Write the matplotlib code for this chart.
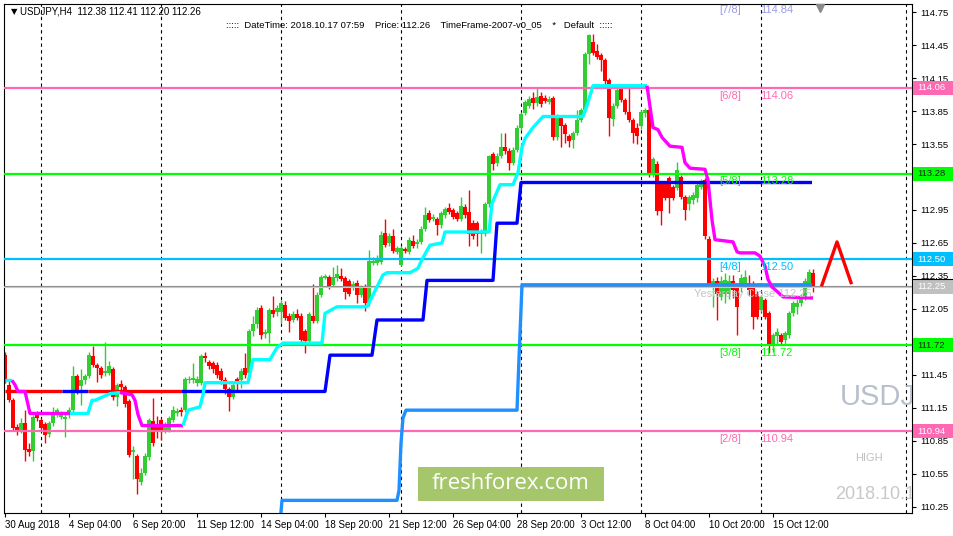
import matplotlib
matplotlib.use("Agg")
import matplotlib.pyplot as plt
from matplotlib.patches import Rectangle

# ---- candles (H4 bars, index 0 = 30 Aug 2018 12:00) ----
opens = [
    111.63, 111.36, 111.22, 110.98, 110.95, 111.01, 110.78, 110.76, 111.09, 111.04,
    111.00, 110.91, 111.01, 111.10, 111.07, 111.05, 111.09, 111.13, 111.44, 111.35,
    111.40, 111.44, 111.62, 111.54, 111.51, 111.47, 111.47, 111.50, 111.25, 111.37,
    111.34, 111.21, 110.75, 110.71, 110.48, 110.56, 110.70, 111.03, 111.00, 111.04,
    110.94, 110.95, 111.04, 111.10, 111.13, 111.13, 111.40, 111.40, 111.38, 111.38,
    111.62, 111.57, 111.56, 111.54, 111.49, 111.40, 111.32, 111.25, 111.41, 111.40,
    111.51, 111.47, 111.85, 111.91, 112.06, 111.82, 111.83, 112.04, 112.02, 112.02,
    112.09, 111.99, 111.95, 112.00, 111.99, 111.85, 111.76, 111.99, 111.94, 112.18,
    112.33, 112.34, 112.27, 112.33, 112.35, 112.33, 112.30, 112.25, 112.29, 112.18,
    112.25, 112.10, 112.47, 112.47, 112.48, 112.74, 112.65, 112.71, 112.57, 112.45,
    112.59, 112.57, 112.67, 112.64, 112.66, 112.78, 112.92, 112.87, 112.87, 112.81,
    112.90, 112.97, 112.95, 112.92, 112.87, 112.98, 112.93, 112.83, 112.83, 112.73,
    112.73, 113.00, 113.46, 113.38, 113.44, 113.52, 113.49, 113.38, 113.50, 113.70,
    113.83, 113.90, 113.97, 113.92, 113.99, 113.97, 113.93, 113.97, 113.61, 113.79,
    113.72, 113.62, 113.59, 113.65, 113.77, 113.86, 114.37, 114.48, 114.40, 114.36,
    114.31, 114.13, 113.78, 113.90, 114.05, 113.95, 113.84, 113.77, 113.70, 113.71,
    113.83, 113.86, 113.27, 113.37, 113.19, 113.19, 113.24, 113.16, 113.15, 113.25,
    113.07, 113.00, 113.04, 113.06, 113.16, 113.22, 112.69, 112.27, 112.30, 112.16,
    112.19, 112.19, 112.30, 112.24, 112.24, 112.28, 112.29, 112.28, 112.19, 112.04,
    112.13, 112.01, 111.71, 111.80, 111.81, 111.77, 111.81, 112.01, 112.07, 112.10,
    112.16, 112.28, 112.38,
]
highs = [
    111.66, 111.40, 111.24, 111.00, 111.06, 111.13, 110.83, 111.09, 111.12, 111.06,
    111.02, 111.03, 111.16, 111.15, 111.12, 111.10, 111.16, 111.53, 111.46, 111.50,
    111.46, 111.66, 111.71, 111.56, 111.53, 111.75, 111.58, 111.52, 111.38, 111.40,
    111.36, 111.23, 110.80, 110.73, 110.60, 110.74, 111.06, 111.24, 111.08, 111.06,
    111.02, 111.08, 111.17, 111.15, 111.16, 111.43, 111.44, 111.56, 111.44, 111.64,
    111.66, 111.59, 111.58, 111.57, 111.51, 111.43, 111.34, 111.38, 111.43, 111.51,
    111.65, 111.87, 111.99, 112.07, 112.09, 111.87, 112.06, 112.17, 112.09, 112.13,
    112.12, 112.01, 112.03, 112.05, 112.01, 111.87, 112.02, 112.28, 112.20, 112.36,
    112.37, 112.36, 112.43, 112.45, 112.42, 112.35, 112.32, 112.30, 112.31, 112.27,
    112.28, 112.59, 112.52, 112.54, 112.76, 112.87, 112.74, 112.78, 112.62, 112.62,
    112.61, 112.70, 112.72, 112.69, 112.80, 112.98, 112.95, 112.91, 112.89, 112.94,
    112.98, 113.01, 112.97, 112.94, 113.07, 113.00, 113.13, 112.86, 112.85, 112.78,
    113.02, 113.45, 113.48, 113.47, 113.65, 113.65, 113.51, 113.52, 113.72, 113.84,
    113.95, 113.99, 114.02, 114.06, 114.02, 114.00, 113.99, 113.99, 113.82, 113.81,
    113.74, 113.64, 113.67, 113.86, 113.88, 114.39, 114.55, 114.55, 114.46, 114.38,
    114.33, 114.15, 113.92, 114.06, 114.08, 113.97, 114.06, 113.79, 113.74, 113.86,
    113.88, 113.88, 113.43, 113.40, 113.21, 113.21, 113.26, 113.18, 113.39, 113.27,
    113.09, 113.09, 113.11, 113.20, 113.23, 113.24, 112.71, 112.33, 112.34, 112.35,
    112.38, 112.36, 112.36, 112.26, 112.37, 112.40, 112.36, 112.30, 112.21, 112.18,
    112.15, 112.03, 111.83, 111.88, 111.83, 111.85, 112.03, 112.12, 112.14, 112.19,
    112.33, 112.41, 112.41,
]
lows = [
    111.38, 111.20, 110.94, 110.90, 110.92, 110.67, 110.71, 110.67, 111.03, 110.95,
    110.83, 110.89, 110.99, 111.07, 111.05, 110.89, 111.06, 111.11, 111.28, 111.18,
    111.37, 111.42, 111.52, 111.39, 111.42, 111.44, 111.45, 111.22, 111.17, 111.31,
    111.16, 110.70, 110.50, 110.37, 110.45, 110.54, 110.68, 110.80, 110.88, 110.86,
    110.92, 110.93, 111.02, 111.08, 111.08, 111.11, 111.38, 111.38, 111.35, 111.36,
    111.57, 111.50, 111.47, 111.42, 111.37, 111.28, 111.12, 111.23, 111.30, 111.33,
    111.42, 111.44, 111.80, 111.88, 111.78, 111.79, 111.74, 111.98, 111.99, 111.92,
    111.95, 111.84, 111.93, 111.95, 111.75, 111.65, 111.74, 111.92, 111.92, 112.16,
    112.32, 112.23, 112.25, 112.30, 112.30, 112.14, 112.17, 112.22, 112.10, 112.16,
    112.03, 112.08, 112.45, 112.45, 112.46, 112.61, 112.62, 112.56, 112.55, 112.44,
    112.56, 112.55, 112.60, 112.60, 112.64, 112.76, 112.84, 112.85, 112.72, 112.79,
    112.88, 112.91, 112.87, 112.85, 112.85, 112.88, 112.62, 112.69, 112.62, 112.56,
    112.71, 112.98, 113.31, 113.35, 113.42, 113.46, 113.31, 113.36, 113.48, 113.68,
    113.81, 113.88, 113.87, 113.90, 113.89, 113.92, 113.91, 113.59, 113.59, 113.52,
    113.56, 113.52, 113.51, 113.63, 113.75, 113.84, 114.28, 114.36, 114.32, 114.21,
    114.06, 113.62, 113.71, 113.88, 113.93, 113.82, 113.75, 113.56, 113.55, 113.69,
    113.80, 113.25, 113.25, 112.90, 112.81, 113.04, 112.92, 113.04, 113.13, 113.05,
    112.86, 112.95, 113.00, 113.02, 113.14, 112.69, 112.25, 112.07, 111.95, 112.13,
    112.10, 112.14, 112.15, 111.81, 112.20, 112.26, 112.18, 111.87, 111.96, 112.02,
    111.96, 111.65, 111.66, 111.73, 111.73, 111.73, 111.79, 111.99, 112.00, 112.08,
    112.13, 112.26, 112.20,
]
closes = [
    111.41, 111.22, 110.97, 110.95, 111.01, 110.77, 110.75, 111.07, 111.06, 110.97,
    110.90, 111.01, 111.10, 111.13, 111.09, 111.07, 111.13, 111.44, 111.31, 111.40,
    111.44, 111.63, 111.54, 111.51, 111.45, 111.49, 111.53, 111.25, 111.36, 111.34,
    111.19, 110.72, 110.77, 110.50, 110.56, 110.71, 111.04, 110.83, 110.95, 110.95,
    110.98, 111.06, 111.13, 111.12, 111.11, 111.41, 111.41, 111.42, 111.41, 111.62,
    111.60, 111.53, 111.50, 111.45, 111.40, 111.32, 111.25, 111.36, 111.39, 111.49,
    111.45, 111.85, 111.91, 112.04, 111.81, 111.84, 112.04, 112.00, 112.06, 112.10,
    111.97, 111.94, 112.00, 111.97, 111.77, 111.76, 112.00, 111.94, 112.18, 112.34,
    112.35, 112.25, 112.34, 112.37, 112.32, 112.20, 112.19, 112.28, 112.18, 112.25,
    112.10, 112.49, 112.49, 112.51, 112.72, 112.63, 112.71, 112.58, 112.60, 112.60,
    112.58, 112.68, 112.62, 112.66, 112.78, 112.90, 112.86, 112.89, 112.81, 112.92,
    112.96, 112.93, 112.89, 112.87, 112.99, 112.90, 112.73, 112.71, 112.73, 112.75,
    113.00, 113.44, 113.37, 113.44, 113.52, 113.49, 113.38, 113.50, 113.70, 113.82,
    113.93, 113.96, 113.92, 113.98, 113.91, 113.94, 113.96, 113.61, 113.80, 113.71,
    113.64, 113.58, 113.65, 113.77, 113.86, 114.37, 114.54, 114.38, 114.34, 114.31,
    114.12, 113.79, 113.90, 114.04, 113.95, 113.84, 113.77, 113.65, 113.62, 113.84,
    113.86, 113.27, 113.41, 112.94, 112.94, 113.06, 113.06, 113.06, 113.31, 113.07,
    112.95, 113.07, 113.09, 113.18, 113.19, 112.71, 112.28, 112.30, 112.19, 112.30,
    112.31, 112.30, 112.22, 112.07, 112.33, 112.34, 112.22, 111.98, 111.98, 112.16,
    111.98, 111.71, 111.81, 111.84, 111.75, 111.83, 112.01, 112.10, 112.10, 112.16,
    112.30, 112.39, 112.26,
]

# ---- time axis ----
date_ticks = [0, 16, 32, 48, 64, 80, 96, 112, 128, 144, 160, 176, 192]
date_labels = ["30 Aug 2018", "4 Sep 04:00", "6 Sep 20:00", "11 Sep 12:00",
               "14 Sep 04:00", "18 Sep 20:00", "21 Sep 12:00", "26 Sep 04:00",
               "28 Sep 20:00", "3 Oct 12:00", "8 Oct 04:00", "10 Oct 20:00",
               "15 Oct 12:00"]
grid_bars = [9, 39, 69, 99, 129, 159, 189, 225.25]
price_ticks = [114.75, 114.45, 114.15, 113.85, 113.55, 113.25, 112.95, 112.65,
               112.35, 112.05, 111.75, 111.45, 111.15, 110.85, 110.55, 110.25]
# labels that sit under the coloured price boxes are not shown
hidden_ticks = [113.25, 111.75]

# ---- Murrey math levels ----
murrey_names = ["[7/8]", "[6/8]", "[5/8]", "[4/8]", "[3/8]", "[2/8]"]
murrey_levels = [114.84, 114.06, 113.28, 112.50, 111.72, 110.94]
murrey_colors = ["#9a9ae8", "#ff69b4", "#00ff00", "#00bfff", "#00ff00", "#ff69b4"]
murrey_box_text = [None, "white", "#202020", "white", "#202020", "white"]

yesterday_close = 112.25
bid_price = 112.26

# ---- indicator lines: (bar, price) knots ----
trail_segments = [
    ("#00ffff", [(0, 111.40), (1.75, 111.40)]),
    ("#ff00ff", [(1.75, 111.40), (2.5, 111.36), (3.25, 111.30), (5, 111.30),
                 (5.5, 111.22), (6.25, 111.10), (16.25, 111.10)]),
    ("#00ffff", [(16.25, 111.10), (20.75, 111.10), (21.75, 111.22), (22.5, 111.22),
                 (23.75, 111.24), (26.25, 111.28), (28.75, 111.29)]),
    ("#ff00ff", [(28.75, 111.29), (31.75, 111.27), (32.5, 111.22), (33.25, 111.09),
                 (34.25, 110.99), (44.5, 110.99)]),
    ("#00ffff", [(44.5, 110.99), (45.75, 111.13), (48.75, 111.16), (49.5, 111.27),
                 (50, 111.38), (60.75, 111.38), (62, 111.59), (66.25, 111.59),
                 (68, 111.70), (69.5, 111.74), (79.25, 111.74), (80, 112.01),
                 (83, 112.07), (90.5, 112.07), (94.5, 112.36), (95.5, 112.38),
                 (101.25, 112.38), (103.25, 112.42), (104.25, 112.50), (106.25, 112.63),
                 (109.25, 112.65), (110, 112.75), (121, 112.75), (121.75, 113.01),
                 (123.75, 113.18), (127, 113.18), (128.25, 113.29), (129.25, 113.52),
                 (130, 113.60), (132, 113.70), (134.5, 113.80), (144.5, 113.80),
                 (145.5, 113.90), (147, 114.08), (160.5, 114.08)]),
    ("#ff00ff", [(160.5, 114.08), (161.25, 113.89), (162, 113.70), (163.25, 113.68),
                 (164.25, 113.61), (165.5, 113.56), (166.25, 113.53), (169.25, 113.52),
                 (170, 113.38), (171.25, 113.33), (175, 113.32), (175.75, 113.22),
                 (176.75, 112.86), (177.5, 112.68), (182, 112.66), (183, 112.57),
                 (183.75, 112.56), (187.5, 112.56), (188.75, 112.53), (190, 112.44),
                 (190.75, 112.32), (191.75, 112.25), (193, 112.21), (194.5, 112.16),
                 (202, 112.15)]),
]

pivot_segments = [
    ("#ff0000", [(0, 111.30), (14.25, 111.30)]),
    ("#0000ff", [(14.25, 111.30), (20.75, 111.30)]),
    ("#ff0000", [(20.75, 111.30), (44.25, 111.30)]),
    ("#0000ff", [(44.25, 111.30), (80, 111.30), (81.25, 111.63), (91.75, 111.63),
                 (93, 111.95), (104.5, 111.95), (105.5, 112.31), (122, 112.31),
                 (123, 112.83), (128, 112.83), (129, 113.20), (201.75, 113.20)]),
]

weekly_steps = [(68.75, 110.10), (69.25, 110.31), (98, 110.31), (98.5, 110.40),
                (99, 110.83), (99.5, 111.06), (100.25, 111.13), (128, 111.13),
                (128.5, 111.60), (129.25, 112.27), (201.75, 112.27)]

arrow_mark = [(204.25, 112.27), (208, 112.66), (211.5, 112.29)]

plt.rcParams['font.family'] = ['Liberation Sans', 'DejaVu Sans']

fig = plt.figure(figsize=(9.54, 5.36), dpi=100)
fig.patch.set_facecolor("white")
W, H = 954, 536
ax = fig.add_axes([4 / W, (H - 513) / H, (912 - 4) / W, (513 - 4) / H])
ax.set_xlim(-0.25, 226.75)
ax.set_ylim(110.195, 114.823)

# grid
for g in grid_bars:
    ax.axvline(g, color="black", lw=0.8, ls=(0, (3, 3)), zorder=1)

# candles
for i in range(len(closes)):
    o, h, l, c = opens[i], highs[i], lows[i], closes[i]
    col = "#32cd32" if c >= o else "#ff0000"
    ax.vlines(i, l, h, color=col, lw=1.0, zorder=2)
    body = max(abs(c - o), 0.012)
    ax.bar(i, body, bottom=min(o, c), width=0.8, color=col, lw=0, zorder=2)

# horizontal levels
ax.axhline(bid_price, color="#8c8c8c", lw=0.8, zorder=3)
ax.axhline(yesterday_close, color="#c8c8c8", lw=0.8, zorder=3)
for lvl, col in zip(murrey_levels, murrey_colors):
    if lvl < 114.8:
        ax.axhline(lvl, color=col, lw=1.6, zorder=3)

# step lines
xs, ys = zip(*weekly_steps)
ax.plot(xs, ys, color="#1e90ff", lw=2.4, zorder=4, solid_capstyle="butt")
for col, pts in pivot_segments:
    xs, ys = zip(*pts)
    ax.plot(xs, ys, color=col, lw=2.4, zorder=4, solid_capstyle="butt")
for col, pts in trail_segments:
    xs, ys = zip(*pts)
    ax.plot(xs, ys, color=col, lw=2.4, zorder=5, solid_capstyle="butt")

xs, ys = zip(*arrow_mark)
ax.plot(xs, ys, color="#ff0000", lw=2.4, zorder=5, clip_on=False)

# murrey labels
for name, lvl, col in zip(murrey_names, murrey_levels, murrey_colors):
    ax.text(178.5, lvl - 0.025, name, color=col, fontsize=8, ha="left", va="top",
            zorder=6, clip_on=True)
    ax.text(188.75, lvl - 0.025, f"{lvl:.2f}", color=col, fontsize=8, ha="left",
            va="top", zorder=6, clip_on=True)

ax.text(201.75, yesterday_close - 0.02, f"Yesterday Close {yesterday_close:.2f}",
        color="#c4c4c4", fontsize=8, ha="right", va="top", zorder=6)

# shift marker at top
ax.plot([203.75], [114.79], marker="v", color="#8a8a8a", ms=6, clip_on=False, zorder=6)

# corner labels (cut by the chart edge)
ax.text(0.9207, 0.228, "USDJ", transform=ax.transAxes, fontsize=21,
        color="#b8c0cc", ha="left", va="center", clip_on=True)
ax.text(0.937, 0.108, "HIGH", transform=ax.transAxes, fontsize=8,
        color="#c0c0c0", ha="left", va="center", clip_on=True)
ax.text(0.915, 0.037, "2018.10.1", transform=ax.transAxes, fontsize=13,
        color="#c8c8c8", ha="left", va="center", clip_on=True)

# watermark
ax.add_patch(Rectangle((0.456, 0.0236), 0.2048, 0.0668, transform=ax.transAxes,
                       facecolor="#a6c66c", edgecolor="none", zorder=7))
ax.text(0.558, 0.057, "freshforex.com", transform=ax.transAxes, fontsize=16,
        family=["Open Sans", "DejaVu Sans"], color="white", ha="center",
        va="center", zorder=8)

# axes styling
for side in ["left", "top", "right", "bottom"]:
    ax.spines[side].set_color("black")
    ax.spines[side].set_linewidth(0.8)
ax.yaxis.tick_right()
ax.set_yticks(price_ticks)
ax.set_yticklabels(["" if p in hidden_ticks else f"{p:.2f}" for p in price_ticks])
ax.tick_params(axis="y", direction="out", length=3, width=0.8, pad=3, labelsize=6.8)
ax.set_xticks(date_ticks)
ax.set_xticklabels(date_labels, ha="left")
ax.tick_params(axis="x", direction="out", length=3, width=0.8, pad=2, labelsize=7)
for lab in ax.get_xticklabels():
    lab.set_horizontalalignment("left")

# price boxes on the right scale
ytr = ax.get_yaxis_transform()
box_h = 14 / 110
box_items = [(lvl, col, tc) for lvl, col, tc in
             zip(murrey_levels, murrey_colors, murrey_box_text) if tc]
box_items.append((yesterday_close, "#c0c0c0", "white"))
for lvl, col, tc in box_items:
    ax.add_patch(Rectangle((1.001, lvl - box_h / 2), 0.047, box_h, transform=ytr,
                           facecolor=col, edgecolor="none", clip_on=False, zorder=9))
    ax.text(1.006, lvl, f"{lvl:.2f}", transform=ytr, color=tc, fontsize=6.8,
            ha="left", va="center", clip_on=False, zorder=10)
ax.plot([1.001, 1.048], [112.32, 112.32], transform=ytr, color="black", lw=0.8,
        clip_on=False, zorder=10)

# header texts
fig.text(11 / W, 1 - 12 / H, "\u25bc", fontsize=6, family=["DejaVu Sans"],
         ha="left", va="center")
fig.text(20 / W, 1 - 12 / H, "USDJPY,H4  112.38 112.41 112.20 112.26",
         fontsize=7, ha="left", va="center")
fig.text(226 / W, 1 - 25 / H,
         ":::::  DateTime: 2018.10.17 07:59    Price: 112.26    "
         "TimeFrame-2007-v0_05    *   Default  :::::",
         fontsize=6.8, ha="left", va="center")

fig.savefig("out.png", dpi=100, facecolor="white")
